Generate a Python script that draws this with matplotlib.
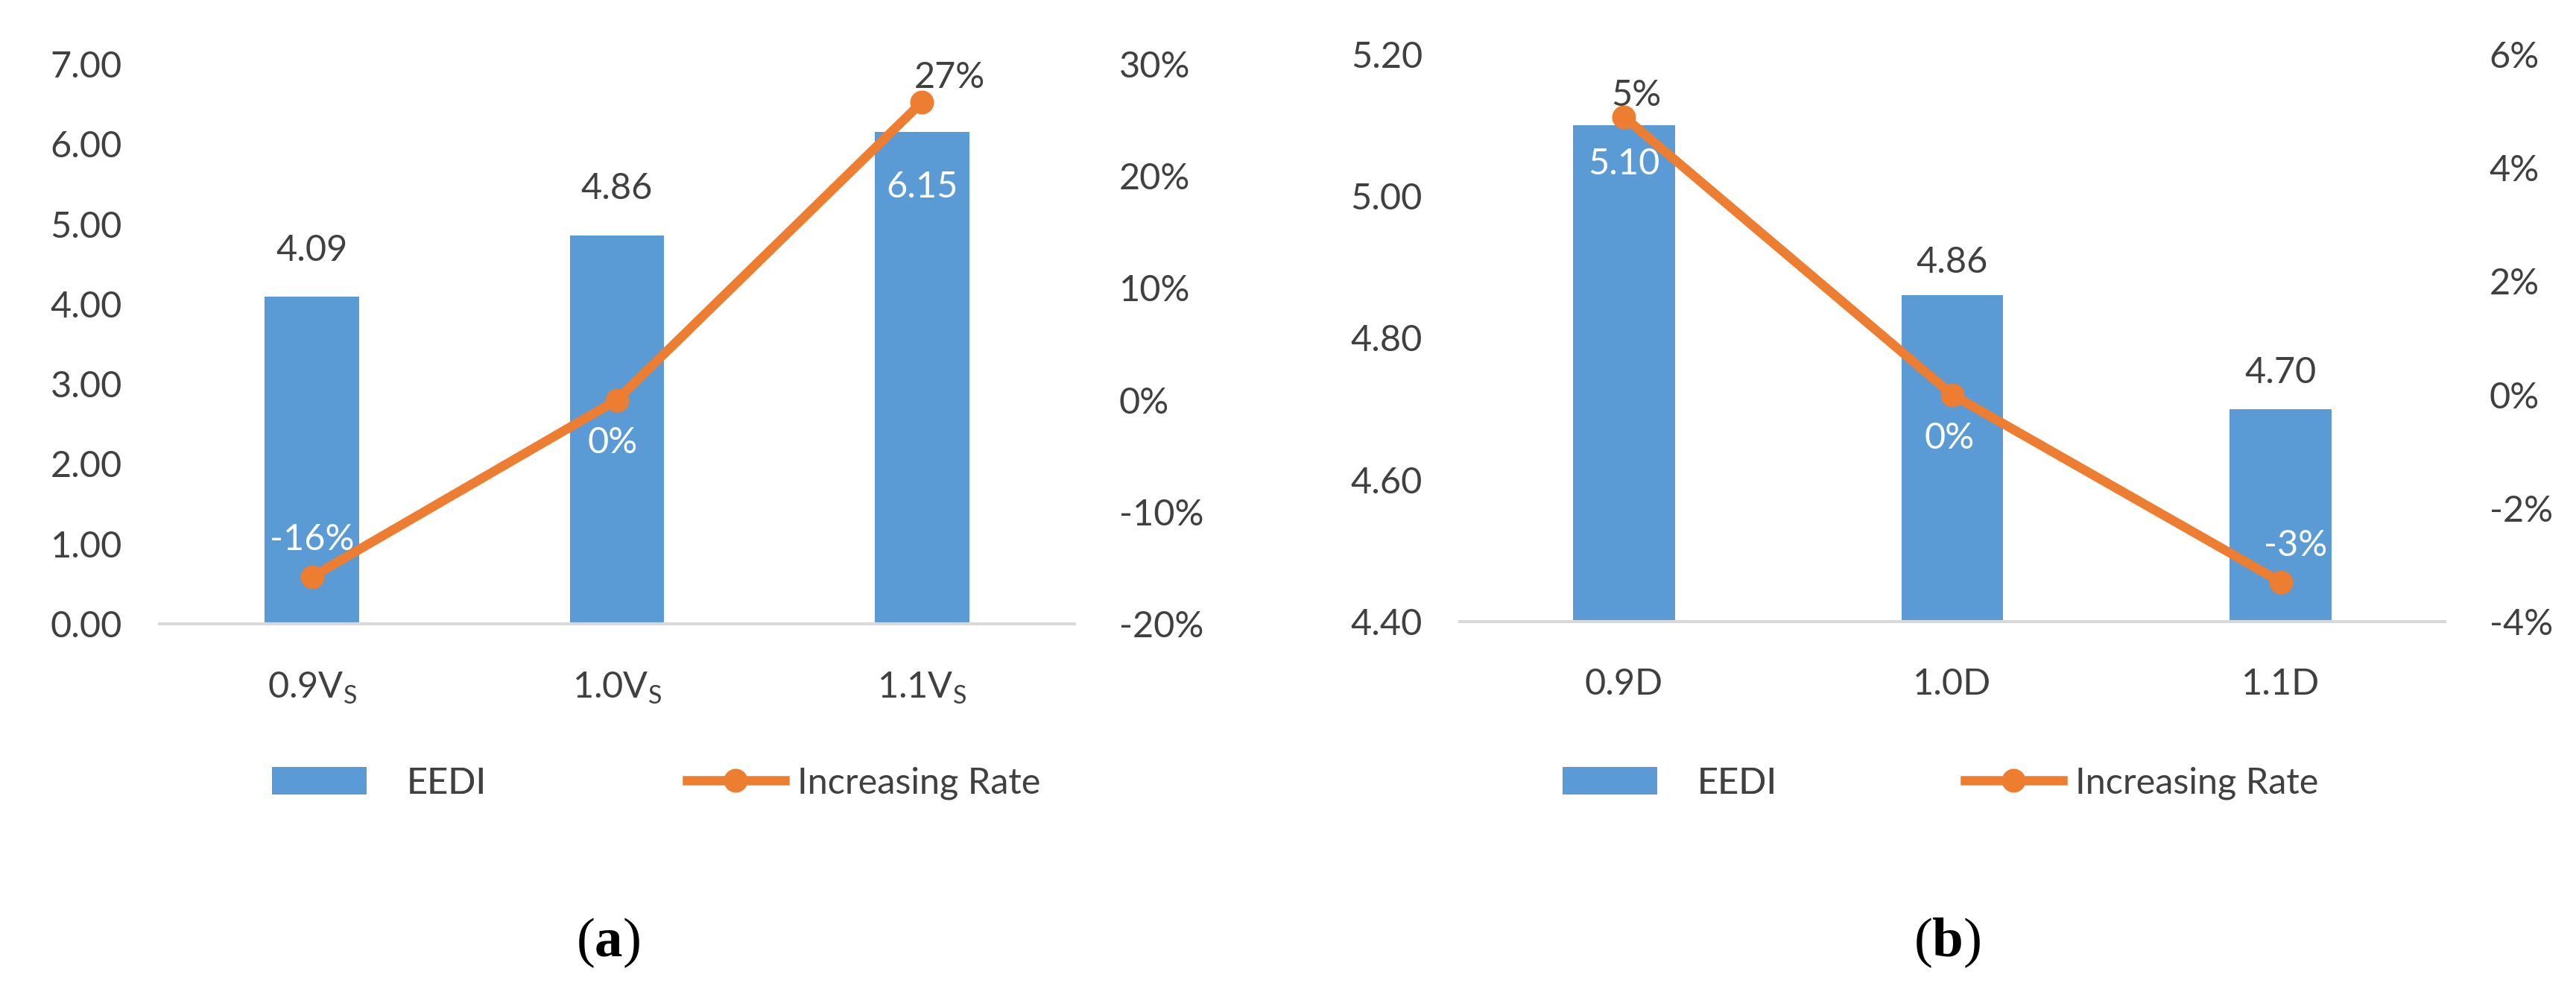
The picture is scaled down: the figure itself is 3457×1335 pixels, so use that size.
import matplotlib
matplotlib.use("Agg")
import matplotlib.pyplot as plt
from matplotlib.patches import Patch
from matplotlib.lines import Line2D

plt.rcParams["font.family"] = ["Lato", "DejaVu Sans"]
plt.rcParams["mathtext.fontset"] = "custom"
plt.rcParams["mathtext.rm"] = "Lato"
plt.rcParams["mathtext.bf"] = "Liberation Serif:bold"

# panel (a): ship speed
speed_labels = ["0.9V$_\\mathrm{S}$", "1.0V$_\\mathrm{S}$", "1.1V$_\\mathrm{S}$"]
speed_eedi = [4.09, 4.86, 6.15]
speed_rate = [-15.8, 0.0, 26.6]

# panel (b): draft
draft_labels = ["0.9D", "1.0D", "1.1D"]
draft_eedi = [5.10, 4.86, 4.70]
draft_rate = [4.9, 0.0, -3.3]

BLUE = "#5b9bd5"
ORANGE = "#ed7d31"
GREY = "#d9d9d9"
TXT = "#404040"
FS = 35


def draw_panel(rect, cats, eedi, rate, ylim, ystep, rlim, rstep,
               bar_offsets, bar_colors, rate_offsets, rate_colors,
               panel_tag, tag_x, legend_x):
    ax = fig.add_axes(rect)
    x = list(range(len(cats)))
    ax.bar(x, eedi, width=0.31, color=BLUE, zorder=2)
    ax.set_xlim(-0.5, len(cats) - 0.5)
    ax.set_ylim(*ylim)
    n = int(round((ylim[1] - ylim[0]) / ystep))
    yt = [ylim[0] + i * ystep for i in range(n + 1)]
    ax.set_yticks(yt)
    ax.set_yticklabels(["%.2f" % v for v in yt])
    ax.set_xticks(x)
    ax.set_xticklabels(cats)
    for s in ["top", "right", "left"]:
        ax.spines[s].set_visible(False)
    ax.spines["bottom"].set_color(GREY)
    ax.spines["bottom"].set_linewidth(3)
    ax.spines["bottom"].set_zorder(3)
    ax.tick_params(axis="y", length=0, pad=36, labelsize=FS, labelcolor=TXT)
    ax.tick_params(axis="x", length=0, pad=45, labelsize=FS, labelcolor=TXT)

    ax2 = ax.twinx()
    ax2.plot(x, rate, color=ORANGE, lw=9, marker="o", ms=22, zorder=4)
    ax2.set_ylim(*rlim)
    m = int(round((rlim[1] - rlim[0]) / rstep))
    rt = [rlim[0] + i * rstep for i in range(m + 1)]
    ax2.set_yticks(rt)
    ax2.set_yticklabels(["%.0f%%" % v for v in rt])
    for s in ax2.spines.values():
        s.set_visible(False)
    ax2.tick_params(axis="y", length=0, pad=43, labelsize=FS, labelcolor=TXT)

    for i, v in enumerate(eedi):
        ax2.annotate("%.2f" % v, xy=(i, v), xycoords=("data", ax.get_yaxis_transform()),
                     xytext=bar_offsets[i], textcoords="offset points",
                     ha="center", va="center", fontsize=FS, color=bar_colors[i], zorder=6)
    for i, v in enumerate(rate):
        ax2.annotate("%.0f%%" % v, xy=(i, v), xytext=rate_offsets[i],
                     textcoords="offset points", ha="center", va="center",
                     fontsize=FS, color=rate_colors[i], zorder=6)

    h_bar = Patch(facecolor=BLUE)
    h_line = Line2D([], [], color=ORANGE, lw=9, marker="o", ms=22)
    leg1 = fig.legend([h_bar], ["EEDI"], loc="center left",
                      bbox_to_anchor=(legend_x[0], 0.213), frameon=False,
                      fontsize=FS, handlelength=2.6, handleheight=0.8,
                      handletextpad=1.1, labelcolor=TXT)
    leg2 = fig.legend([h_line], ["Increasing Rate"], loc="center left",
                      bbox_to_anchor=(legend_x[1], 0.213), frameon=False,
                      fontsize=FS, handlelength=2.7, handletextpad=0.35,
                      labelcolor=TXT)
    fig.add_artist(leg1)

    fig.text(tag_x, 0.052, "($\\mathbf{%s}$)" % panel_tag, ha="center", va="center",
             fontsize=54, family="Liberation Serif", color="black")
    return ax, ax2


fig = plt.figure(figsize=(34.57, 13.35), dpi=100)

# data label offsets are in points relative to the bar tops / markers
draw_panel([0.0619, 0.373, 0.3552, 0.5626], speed_labels, speed_eedi, speed_rate,
           (0, 7), 1, (-20, 30), 10,
           [(0, 45), (0, 45), (0, -53)], [TXT, TXT, "white"],
           [(0, 36), (-4, -41), (27, 24)], ["white", "white", TXT],
           "a", 0.236, (0.093, 0.254))

# the axes are linked to the figure through ax.get_yaxis_transform for bar labels
ax_b, ax_b2 = draw_panel([0.5667, 0.3753, 0.3824, 0.570], draft_labels, draft_eedi, draft_rate,
                         (4.4, 5.2), 0.2, (-4, 6), 2,
                         [(0, -37), (0, 32), (0, 35)], ["white", TXT, TXT],
                         [(12, 21), (-3, -42), (14, 35)], [TXT, "white", "white"],
                         "b", 0.756, (0.594, 0.75))

fig.savefig("out.png", dpi=100)
